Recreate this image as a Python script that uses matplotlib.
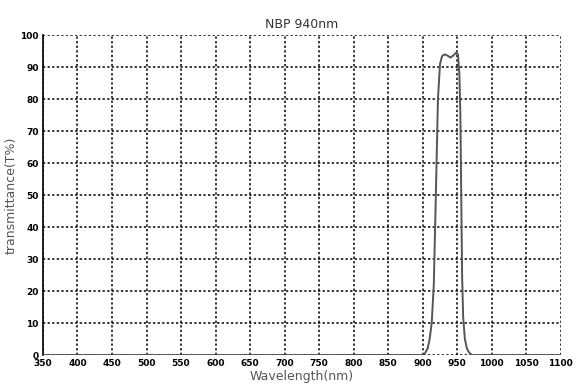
import numpy as np
import matplotlib.pyplot as plt

# transmission curve of the 940nm narrow band-pass filter
wavelength = [350, 900, 903, 907, 910, 913, 916, 919, 922, 925, 928, 932, 936,
              940, 944, 948, 951, 953, 954.5, 956, 957, 958.5, 961, 964, 968, 972, 1100]
transmit = [0, 0, 0.5, 2, 5, 10, 22, 50, 80, 91, 93.5, 94, 93.6,
            93.0, 93.6, 94.5, 94, 88, 75, 45, 25, 12, 5, 2, 0.5, 0, 0]

x_ticks = np.arange(350, 1101, 50)
y_ticks = np.arange(0, 101, 10)

fig = plt.figure(figsize=(5.8, 3.91), dpi=100)
ax = fig.add_axes([0.074, 0.092, 0.893, 0.818])

ax.plot(wavelength, transmit, color="#555555", lw=1.4, zorder=3)

ax.set_xlim(350, 1100)
ax.set_ylim(0, 100)
ax.set_xticks(x_ticks)
ax.set_yticks(y_ticks)
ax.tick_params(length=0, labelsize=6.5, pad=3)
for lab in ax.get_xticklabels() + ax.get_yticklabels():
    lab.set_fontweight("bold")

ax.grid(True, color="black", linestyle=(0, (1.5, 1.5)), linewidth=1.1)
for side in ["top", "right", "bottom"]:
    ax.spines[side].set_visible(False)
ax.spines["left"].set_linewidth(1.2)

ax.set_title("NBP 940nm", fontsize=9, color="#333333", pad=5)
ax.set_xlabel("Wavelength(nm)", fontsize=9, color="#555555", labelpad=1)
ax.set_ylabel("transmittance(T%)", fontsize=9, color="#555555", labelpad=2)

fig.savefig("out.png", dpi=100)
